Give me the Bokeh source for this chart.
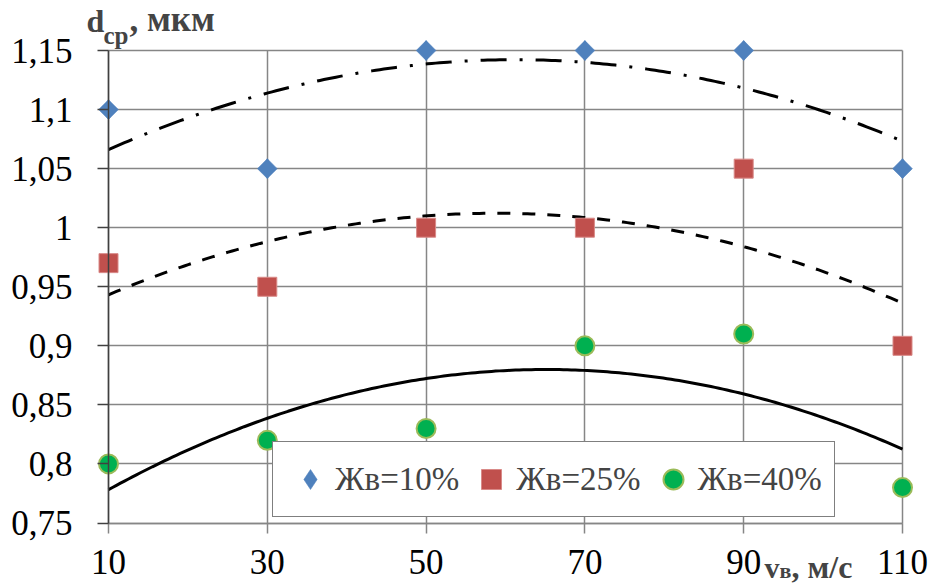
import numpy as np
from bokeh.plotting import figure
from bokeh.models import (Range1d, FixedTicker, Legend, LegendItem, Label)
from bokeh.embed import file_html
from bokeh.resources import INLINE

# ---- data ----
x_vals = [10, 30, 50, 70, 90, 110]
s10 = [1.10, 1.05, 1.15, 1.15, 1.15, 1.05]
s25 = [0.97, 0.95, 1.00, 1.00, 1.05, 0.90]
s40 = [0.80, 0.82, 0.83, 0.90, 0.91, 0.78]
series_names = ["Жв=10%", "Жв=25%", "Жв=40%"]
x_ticks = [10, 30, 50, 70, 90, 110]
y_ticks = [0.75, 0.80, 0.85, 0.90, 0.95, 1.00, 1.05, 1.10, 1.15]
y_tick_labels = ["0,75", "0,8", "0,85", "0,9", "0,95", "1", "1,05", "1,1", "1,15"]

# ---- layout (pixels) ----
W, H = 933, 585
FL, FR, FT, FB = 108, 902, 50, 522.5   # plot-area edges in the canvas
x0, x1 = x_ticks[0], x_ticks[-1]
y0, y1 = y_ticks[0], y_ticks[-1]
kx = (x1 - x0) / (FR - FL)
ky = (y1 - y0) / (FB - FT)
x_range = Range1d(x0 - FL * kx, x1 + (W - FR) * kx)
y_range = Range1d(y0 - (H - FB) * ky, y1 + FT * ky)

FONT = "Liberation Serif"
GRID = "#868686"
DARK = "#404040"

p = figure(width=W, height=H, output_backend="svg", toolbar_location=None,
           x_range=x_range, y_range=y_range,
           min_border_left=0, min_border_right=0, min_border_top=0,
           min_border_bottom=0)
p.outline_line_color = None
p.background_fill_color = "white"

# axes
p.xaxis.fixed_location = y0
p.yaxis.fixed_location = x0
p.xaxis.bounds = (x0, x1)
p.yaxis.bounds = (y0, y1)
p.xaxis.ticker = FixedTicker(ticks=x_ticks)
p.yaxis.ticker = FixedTicker(ticks=y_ticks)
p.yaxis.major_label_overrides = {t: l for t, l in zip(y_ticks, y_tick_labels)}
for ax in (p.xaxis, p.yaxis):
    ax.major_label_text_font = FONT
    ax.major_label_text_font_size = "35px"
    ax.major_label_text_color = "black"
    ax.minor_tick_line_color = None
    ax.major_tick_in = 0
p.xaxis.axis_line_color = GRID
p.xaxis.axis_line_width = 1.5
p.xaxis.major_tick_line_color = GRID
p.xaxis.major_tick_line_width = 1.5
p.xaxis.major_tick_out = 10
p.xaxis.major_label_standoff = 17
p.yaxis.axis_line_color = DARK
p.yaxis.axis_line_width = 1.5
p.yaxis.major_tick_line_color = DARK
p.yaxis.major_tick_line_width = 1.5
p.yaxis.major_tick_out = 11
p.yaxis.major_label_standoff = 25

p.xgrid.ticker = FixedTicker(ticks=x_ticks)
p.ygrid.ticker = FixedTicker(ticks=y_ticks)
p.xgrid.cross_bounds = (y0, y1)
p.ygrid.cross_bounds = (x0, x1)
for g in (p.xgrid, p.ygrid):
    g.grid_line_color = GRID
    g.grid_line_width = 1.5

# trend lines (2nd order polynomial fit, as in the source chart)
xs = np.linspace(x_vals[0], x_vals[-1], 200)
for ys, dash in ((s10, "26 13 3 13"), (s25, "13 12"), (s40, "solid")):
    c = np.polyfit(x_vals, ys, 2)
    p.line(xs, np.polyval(c, xs), line_color="black", line_width=3, line_dash=dash)

# markers
r1 = p.scatter(x_vals, s10, marker="diamond", size=19.8, fill_color="#4F81BD",
               line_color="#4F81BD", line_width=0.5)
p.scatter(x_vals, s10, marker="square", angle=np.pi / 4, size=14,
          fill_color="#4F81BD", line_color="#4F81BD", line_width=0.5)
r2 = p.scatter(x_vals, s25, marker="square", size=19, fill_color="#C0504D",
               line_color="#D98A88", line_width=1)
r3 = p.scatter(x_vals, s40, marker="circle", size=19, fill_color="#00B050",
               line_color="#9BBB59", line_width=2)

legend = Legend(items=[LegendItem(label=series_names[0], renderers=[r1]),
                       LegendItem(label=series_names[1], renderers=[r2]),
                       LegendItem(label=series_names[2], renderers=[r3])],
                orientation="horizontal", location=(272, H - 517),
                glyph_width=50, glyph_height=50, label_standoff=-11, spacing=7,
                padding=12, margin=0,
                label_text_font=FONT, label_text_font_size="33px",
                border_line_color="black", border_line_width=1.2,
                background_fill_color="white", background_fill_alpha=1)
p.add_layout(legend, "center")

# axis titles (left edge, baseline in canvas pixels)
def lab(text, left, base, size):
    p.add_layout(Label(x=x0, y=y0, x_offset=left - FL,
                       y_offset=FB - base + round(0.35 * size), text=text,
                       text_font=FONT, text_font_size=f"{size}px",
                       text_font_style="bold",
                       text_align="left", text_baseline="alphabetic"))

lab("d", 86, 31, 32)
lab("ср", 103, 44, 25)
lab(", мкм", 129, 31, 35)
lab("v", 764, 577, 30)
lab("в", 779, 578, 22)
lab(", м/с", 791, 577, 32)

open("out.html", "w").write(file_html(p, INLINE))
